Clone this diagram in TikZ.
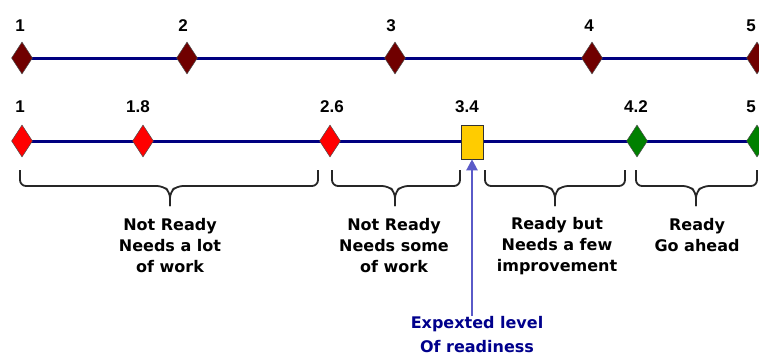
\documentclass[tikz,border=0pt]{standalone}
\usepackage{fontspec}
\setmainfont{DejaVu Sans}
\newfontfamily\numfont{Liberation Sans}
\usetikzlibrary{shapes.geometric,arrows.meta}
\definecolor{navyline}{RGB}{0,0,128}
\definecolor{darkred}{RGB}{112,0,0}
\definecolor{brightred}{RGB}{255,0,0}
\definecolor{darkgreen}{RGB}{0,128,0}
\definecolor{gold}{RGB}{255,204,0}
\definecolor{arrowblue}{RGB}{90,90,200}
\definecolor{textnavy}{RGB}{0,0,140}
\tikzset{
  x=1pt, y=-1pt,
  axis/.style={draw=navyline, line width=3pt},
  mark diamond/.style={diamond, draw=black!70, line width=0.5pt, fill=#1,
    minimum width=21pt, minimum height=32pt, inner sep=0pt},
  mark square/.style={rectangle, draw=black!80, line width=0.6pt, fill=gold,
    minimum width=22pt, minimum height=34pt, inner sep=0pt},
  numlabel/.style={font=\numfont\fontsize{17}{19}\selectfont\bfseries, inner sep=0pt},
  desc/.style={font=\fontsize{16}{21}\selectfont\bfseries, align=center, inner sep=0pt},
  bracepath/.style={draw=black!85, line width=1.8pt, rounded corners=6pt},
  pointer/.style={draw=arrowblue, line width=2.2pt, -{Triangle[length=11pt,width=11pt]}},
}
\begin{document}
\begin{tikzpicture}
\useasboundingbox (0,0) rectangle (759,356);
% axes
\coordinate (l1a) at (14,58);
\coordinate (l1b) at (762,58);
\coordinate (l2a) at (14,141);
\coordinate (l2b) at (762,141);
\draw[axis] (l1a) -- (l1b);
\draw[axis] (l2a) -- (l2b);
% row 1
\foreach \n/\x in {a/22,b/187,c/395,d/592,e/757}{
  \node[mark diamond=darkred] (t\n) at (\x,58) {};
}
\node[numlabel] (lt1) at (20,26) {1};
\node[numlabel] (lt2) at (183,26) {2};
\node[numlabel] (lt3) at (391,26) {3};
\node[numlabel] (lt4) at (589,26) {4};
\node[numlabel] (lt5) at (751,26) {5};
% row 2
\node[mark diamond=brightred] (ba) at (22,141) {};
\node[mark diamond=brightred] (bb) at (143,141) {};
\node[mark diamond=brightred] (bc) at (330,141) {};
\node[mark square] (sq) at (472,142) {};
\node[mark diamond=darkgreen] (bd) at (637,141) {};
\node[mark diamond=darkgreen] (be) at (757,141) {};
\node[numlabel] (lb1) at (20,107) {1};
\node[numlabel] (lb2) at (138,107) {1.8};
\node[numlabel] (lb3) at (332,107) {2.6};
\node[numlabel] (lb4) at (467,107) {3.4};
\node[numlabel] (lb5) at (636,107) {4.2};
\node[numlabel] (lb6) at (751,107) {5};
% braces
\foreach \xa/\xc/\xb in {20/170/318, 332/395/460, 485/555/625, 636/696/757}{
  \draw[bracepath] (\xa,170) -- (\xa,186) -- (\xc-7,186) -- (\xc,192) -- (\xc,206);
  \draw[bracepath] (\xb,170) -- (\xb,186) -- (\xc+7,186) -- (\xc,192) -- (\xc,206);
}
% descriptions
\node[desc] (d1) at (170,246) {Not Ready\\Needs a lot\\of work};
\node[desc] (d2) at (394,246) {Not Ready\\Needs some\\of work};
\node[desc] (d3) at (557,246) {Ready but\\Needs a few\\improvement};
\node[desc] (d4) at (697,235) {Ready\\Go ahead};
% expected level
\node[desc, font=\fontsize{16}{24}\selectfont\bfseries, text=textnavy, anchor=north] (exp) at (477,316) {Expexted level\\Of readiness};
\draw[pointer] (exp.north -| sq.south) -- (sq.south);
\end{tikzpicture}
\end{document}
